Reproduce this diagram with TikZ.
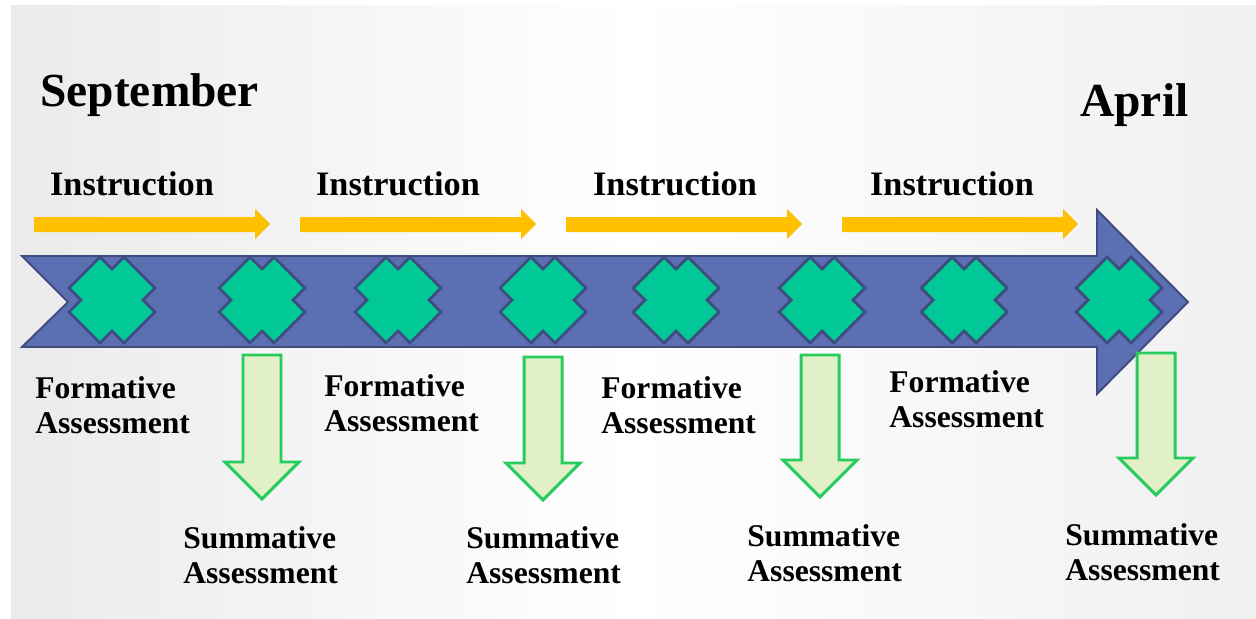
\documentclass[tikz,border=0pt]{standalone}
\usepackage{fontspec}
\setmainfont{Liberation Serif}

\definecolor{bandblue}{RGB}{91,111,178}
\definecolor{bandline}{RGB}{62,76,128}
\definecolor{crossgreen}{RGB}{0,200,150}
\definecolor{instrgold}{RGB}{255,192,0}
\definecolor{sumfill}{RGB}{226,240,199}
\definecolor{sumline}{RGB}{38,204,92}

\tikzset{
    band/.style={fill=bandblue, draw=bandline, line width=1.1pt, line join=miter},
    crossmark/.style={fill=crossgreen, draw=bandline, line width=1.6pt},
    instrarrow/.style={fill=instrgold},
    sumarrow/.style={fill=sumfill, draw=sumline, line width=1.7pt},
    month/.style={font=\fontsize{27}{30}\selectfont\bfseries, inner sep=0pt, anchor=base west},
    instrlabel/.style={font=\fontsize{19.5}{22}\selectfont\bfseries, inner sep=0pt, anchor=base},
    assesslabel/.style={font=\fontsize{18}{19.9}\selectfont\bfseries, inner sep=0pt, anchor=base west, align=left}
}

\begin{document}
\begin{tikzpicture}[x=0.02cm, y=-0.02cm]
    \useasboundingbox (0,0) rectangle (1256,618);
    % slide background
    \fill [white] (0,0) rectangle (1256,618);
    \shade [left color=black!8, right color=black!6, middle color=white] (11,6) rectangle (1256,618);

    % timeline
    \draw [band] (22,256) -- (1097,256) -- (1097,210) -- (1188,302) -- (1097,394)
        -- (1097,347) -- (22,347) -- (68,302) -- cycle;

    % formative marks
    \foreach \cx in {112,262,398,543,676,822,964,1119}
        \draw [crossmark] (\cx,300) ++(0,-31) -- ++(12,-12) -- ++(31,31) -- ++(-12,12)
            -- ++(12,12) -- ++(-31,31) -- ++(-12,-12) -- ++(-12,12) -- ++(-31,-31)
            -- ++(12,-12) -- ++(-12,-12) -- ++(31,-31) -- cycle;

    % instruction
    \foreach \xa/\xb/\lx [count=\i] in {34/270/132, 300/536/398, 566/802/675, 842/1078/952} {
        \fill [instrarrow] (\xa,217) -- (\xb-15,217) -- (\xb-15,209) -- (\xb,224)
            -- (\xb-15,239) -- (\xb-15,232) -- (\xa,232) -- cycle;
        \node [instrlabel] (instr\i) at (\lx,195) {Instruction};
    }

    % summative
    \foreach \sx/\st/\sp in {262/355/499, 543/357/500, 820/355/497, 1156/353/495}
        \draw [sumarrow] (\sx-19,\st) -- (\sx+19,\st) -- (\sx+19,\sp-37) -- (\sx+37,\sp-37)
            -- (\sx,\sp) -- (\sx-37,\sp-37) -- (\sx-19,\sp-37) -- cycle;

    \node [month] (sep) at (40,107) {September};
    \node [month] (apr) at (1080,117) {April};

    % base = last line
    \foreach \fx/\fy [count=\i] in {35/433, 324/431, 601/433, 889/427}
        \node [assesslabel] (form\i) at (\fx,\fy) {Formative\\Assessment};
    \foreach \fx/\fy [count=\i] in {183/583, 466/583, 747/581, 1065/580}
        \node [assesslabel] (summ\i) at (\fx,\fy) {Summative\\Assessment};
\end{tikzpicture}
\end{document}
